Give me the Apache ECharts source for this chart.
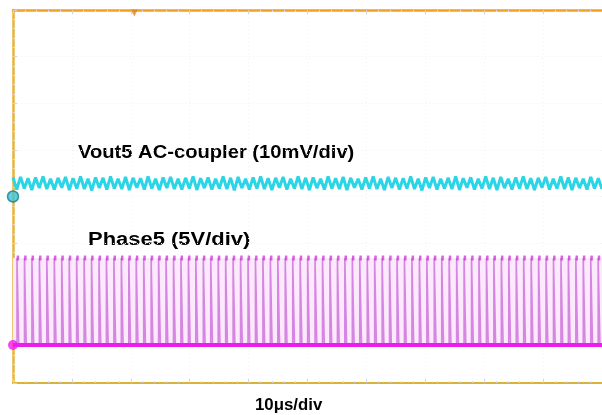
<!DOCTYPE html>
<html><head><meta charset="utf-8">
<script src="https://cdn.jsdelivr.net/npm/echarts@6/dist/echarts.min.js"></script>
<style>html,body{margin:0;padding:0;background:#fff}#c{width:602px;height:415px}</style>
</head><body><div id="c"></div>
<script>
// time axis: µs, 10 divisions of 10µs; vertical: divisions (-4..4)
const xTicks = [0,10,20,30,40,50,60,70,80,90,100];
const vout5Label = "Vout5 AC-coupler (10mV/div)";
const phase5Label = "Phase5 (5V/div)";
const timebaseLabel = "10μs/div";

// Vout5 ripple (divisions), evenly sampled across 0..100 µs
const vout5Vals = [0.41,0.15,0.42,0.17,0.39,0.14,0.41,0.18,0.43,0.16,0.38,0.15,0.40,0.19,0.42,0.14,0.39,0.17,0.43,0.16,0.38,0.13,0.41,0.18,0.40,0.15,0.43,0.17,0.38,0.16,0.42,0.14,0.40,0.19,0.39,0.15,0.43,0.17,0.38,0.14,0.41,0.18,0.42,0.16,0.38,0.15,0.40,0.17,0.43,0.14,0.39,0.18,0.41,0.15,0.38,0.17,0.43,0.16,0.40,0.13,0.42,0.18,0.38,0.15,0.41,0.17,0.43,0.16,0.39,0.14,0.40,0.19,0.42,0.15,0.38,0.17,0.43,0.16,0.40,0.14,0.41,0.18,0.38,0.15,0.43,0.17,0.39,0.16,0.42,0.14,0.40,0.19,0.38,0.15,0.41,0.17,0.43,0.16,0.38,0.14,0.42,0.18,0.40,0.15,0.39,0.17,0.43,0.16,0.38,0.13,0.41,0.18,0.42,0.15,0.38,0.17,0.40,0.16,0.43,0.14,0.39,0.19,0.41,0.15,0.38,0.17,0.43,0.16,0.40,0.14,0.42,0.18,0.38,0.15,0.41,0.17,0.43,0.16,0.39,0.14,0.40,0.19,0.42,0.15,0.38,0.17,0.43,0.16,0.41,0.14,0.40,0.18,0.38,0.15,0.42,0.17,0.39,0.16];
const vout5Ground = 0;

// Phase5 pulse start times (µs)
const phaseStarts = [0.68,1.95,3.21,4.48,5.74,7.01,8.27,9.54,10.80,12.07,13.33,14.60,15.86,17.13,18.39,19.66,20.92,22.19,23.45,24.72,25.98,27.25,28.51,29.78,31.04,32.31,33.57,34.84,36.10,37.37,38.63,39.90,41.16,42.43,43.69,44.96,46.22,47.49,48.75,50.02,51.28,52.55,53.81,55.08,56.34,57.61,58.87,60.14,61.40,62.67,63.93,65.20,66.46,67.73,68.99,70.26,71.52,72.79,74.05,75.32,76.58,77.85,79.11,80.38,81.64,82.91,84.17,85.44,86.70,87.97,89.23,90.50,91.76,93.03,94.29,95.56,96.82,98.09,99.35];
const phaseWidth = 0.3;     // µs
const phaseHigh = -1.32;    // divisions
const phaseLow = -3.185;    // divisions (ground)
const triggerTime = 20.6;

const voutData = vout5Vals.map((v,i)=>[i*100/(vout5Vals.length-1), v]);
const phaseData = [];
phaseStarts.forEach(t=>{
  const t2 = Math.min(t+phaseWidth,100);
  phaseData.push([t,phaseLow],[t,phaseHigh],[t2,phaseHigh],[t2,phaseLow],null);
});
const phaseTops = phaseStarts.map(t=>[t+phaseWidth/2, phaseHigh]);

const chart = echarts.init(document.getElementById('c'), null, {renderer:'canvas'});
const gridSplit = {show:true, lineStyle:{color:'#f1f1f1', type:[1,3], width:1}};
const FONT = '"Liberation Sans", Arial, sans-serif';
chart.setOption({
  animation:false,
  backgroundColor:'#fff',
  grid:{left:13, right:-2, top:10, bottom:32, containLabel:false},
  xAxis:[
    {type:'value', min:0, max:100, interval:10, position:'bottom',
     axisLine:{show:true, onZero:false, lineStyle:{color:'#d9b23a', width:2}},
     axisTick:{show:true, inside:true, length:4, lineStyle:{color:'#d4d4d4'}},
     minorTick:{show:true, splitNumber:5, length:2, lineStyle:{color:'#dcdcdc'}},
     axisLabel:{show:false}, splitLine:gridSplit},
    {type:'value', min:0, max:100, interval:10, position:'top',
     axisLine:{show:true, onZero:false, lineStyle:{color:'#f5a01e', width:2.5}},
     axisTick:{show:true, inside:true, length:4, lineStyle:{color:'#d0d0d0'}},
     minorTick:{show:true, splitNumber:5, length:2, lineStyle:{color:'#dadada'}},
     axisLabel:{show:false}, splitLine:{show:false}}
  ],
  yAxis:[
    {type:'value', min:-4, max:4, interval:1, position:'left',
     axisLine:{show:true, onZero:false, lineStyle:{color:'#e8b53c', width:2.5}},
     axisTick:{show:true, inside:true, length:4, lineStyle:{color:'#d4d4d4'}},
     minorTick:{show:true, splitNumber:5, length:2, lineStyle:{color:'#dcdcdc'}},
     axisLabel:{show:false}, splitLine:gridSplit}
  ],
  series:[
    {name:'Phase5', type:'line', data:phaseData, showSymbol:false, connectNulls:false,
     lineStyle:{color:'#d486e0', width:1.6}, z:3,
     markArea:{silent:true, itemStyle:{color:'#fde9fd'},
       data:[[{xAxis:0, yAxis:phaseHigh},{xAxis:100, yAxis:phaseLow}]]}},
    {name:'Phase5 tops', type:'scatter', data:phaseTops, symbol:'rect', symbolSize:[2.5,5],
     itemStyle:{color:'#cc3fd6'}, z:4},
    {name:'Phase5 low', type:'line', data:[[0,phaseLow],[100,phaseLow]], showSymbol:false,
     lineStyle:{color:'#ec1eec', width:4}, z:5},
    {name:'Vout5', type:'line', data:voutData, showSymbol:false,
     lineStyle:{color:'#2ad6e6', width:3}, z:6},
    {name:'markers', type:'scatter', clip:false, z:10,
     data:[
       {value:[0,vout5Ground], symbol:'circle', symbolSize:11, itemStyle:{color:'#3cc3d3', borderColor:'#127e8e', borderWidth:1.5}},
       {value:[0,phaseLow], symbol:'circle', symbolSize:10, itemStyle:{color:'#f01cf0'}},
       {value:[triggerTime,4], symbol:'triangle', symbolRotate:180, symbolSize:[7,7], symbolOffset:[0,3], itemStyle:{color:'#e8821a'}}
     ]}
  ],
  graphic:[
    {type:'text', x:78, y:144, scaleX:1.12, style:{text:vout5Label, font:'bold 18px '+FONT, fill:'#000'}},
    {type:'text', x:88, y:231, scaleX:1.22, style:{text:phase5Label, font:'bold 18px '+FONT, fill:'#000'}},
    {type:'text', x:255, y:398, scaleX:1.05, style:{text:timebaseLabel, font:'bold 16px '+FONT, fill:'#000'}}
  ]
});
</script></body></html>
